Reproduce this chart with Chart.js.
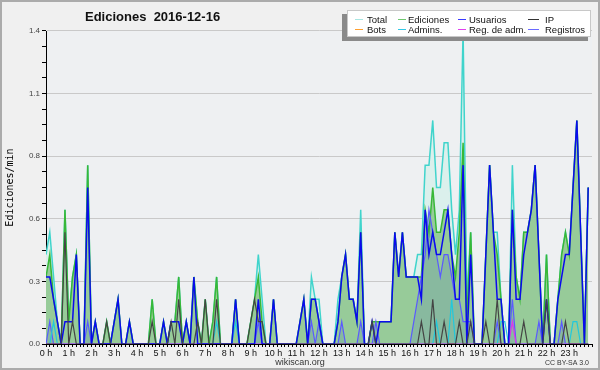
<!DOCTYPE html>
<html>
<head>
<meta charset="utf-8">
<script src="https://cdn.jsdelivr.net/npm/chart.js@4/dist/chart.umd.min.js"></script>
<style>
  html, body { margin: 0; padding: 0; background: #f0f0f0; }
</style>
</head>
<body>
<canvas id="editsChart" width="600" height="370"></canvas>
<script>
// 10-minute bins, 6 per hour, 24 hours
const binsPerHour = 6;
const hourLabels = ['0 h','1 h','2 h','3 h','4 h','5 h','6 h','7 h','8 h','9 h','10 h','11 h',
  '12 h','13 h','14 h','15 h','16 h','17 h','18 h','19 h','20 h','21 h','22 h','23 h'];
const yTickLabels = ['0.0', '0.3', '0.6', '0.8', '1.1', '1.4'];
const seriesNames = ['Total', 'Ediciones', 'Usuarios', 'IP', 'Bots', 'Admins.', 'Reg. de adm.', 'Registros'];

const total = [
  0.4,0.5,0.3,0.1,0,0.6,   0.1,0.3,0.4,0,0,0.8,   0,0.1,0,0,0.1,0,   0.1,0.2,0,0,0.1,0,
  0,0,0,0,0.2,0,   0,0.1,0,0.1,0.1,0.3,   0,0.1,0,0.3,0.1,0,   0.2,0,0.1,0.3,0,0,
  0,0,0.2,0,0,0,   0.1,0.2,0.4,0.2,0,0,   0.2,0,0,0,0,0,   0,0.1,0.2,0,0.3,0.2,
  0.2,0,0,0,0,0.2,   0.3,0.4,0.2,0.2,0.1,0.6,   0,0,0.1,0.1,0.1,0.1,   0.1,0.1,0.5,0.3,0.5,0.3,
  0.3,0.3,0.4,0.4,0.8,0.8,   1.0,0.7,0.7,0.9,0.9,0.6,   0.4,0.6,1.4,0.2,0.5,0,   0,0,0.4,0.8,0.5,0.5,
  0.2,0,0,0.8,0.3,0.2,   0.5,0.5,0.6,0.8,0.4,0,   0.4,0,0,0.2,0.4,0.5,   0.4,0.7,1.0,0.5,0,0.7
];
const ediciones = [
  0.3,0.4,0.2,0.1,0,0.6,   0.1,0.3,0.4,0,0,0.8,   0,0.1,0,0,0.1,0,   0.1,0.2,0,0,0.1,0,
  0,0,0,0,0.2,0,   0,0.1,0,0.1,0.1,0.3,   0,0.1,0,0.3,0.1,0,   0.2,0,0.1,0.3,0,0,
  0,0,0.2,0,0,0,   0.1,0.2,0.3,0.1,0,0,   0.2,0,0,0,0,0,   0,0.1,0.2,0,0.2,0.2,
  0.1,0,0,0,0,0.1,   0.3,0.4,0.2,0.2,0.1,0.5,   0,0,0.1,0.1,0.1,0.1,   0.1,0.1,0.5,0.3,0.5,0.3,
  0.3,0.3,0.3,0.3,0.6,0.5,   0.7,0.5,0.5,0.6,0.6,0.4,   0.3,0.5,0.9,0.1,0.5,0,   0,0,0.4,0.8,0.5,0.4,
  0.2,0,0,0.6,0.3,0.2,   0.5,0.5,0.6,0.8,0.4,0,   0.4,0,0,0.2,0.4,0.5,   0.4,0.7,1.0,0.5,0,0.7
];
const usuarios = [
  0.3,0.3,0.2,0.1,0,0.1,   0.1,0.1,0.4,0,0,0.7,   0,0.1,0,0,0,0,   0.1,0.2,0,0,0.1,0,
  0,0,0,0,0,0,   0,0.1,0,0.1,0.1,0.1,   0,0.1,0,0.3,0,0,   0,0,0,0,0,0,
  0,0,0.2,0,0,0,   0,0,0.2,0,0,0,   0.2,0,0,0,0,0,   0,0.1,0.2,0,0.2,0.2,
  0.1,0,0,0,0,0.1,   0.3,0.4,0.2,0.2,0.1,0.5,   0,0,0.1,0,0.1,0.1,   0.1,0.1,0.5,0.3,0.5,0.3,
  0.3,0.3,0.3,0.2,0.6,0.4,   0.5,0.4,0.4,0.5,0.6,0.4,   0.2,0.2,0.8,0,0.4,0,   0,0,0.4,0.8,0.5,0.2,
  0.2,0,0,0.6,0.2,0.2,   0.4,0.5,0.6,0.8,0.4,0,   0.2,0,0,0.2,0.3,0.4,   0.4,0.7,1.0,0.5,0,0.7
];
const ip = [
  0,0,0,0,0,0.5,   0,0.1,0,0,0,0,   0,0,0,0,0.1,0,   0,0,0,0,0,0,
  0,0,0,0,0.1,0,   0,0,0,0.1,0,0.2,   0,0,0,0,0.1,0,   0.2,0,0,0.2,0,0,
  0,0,0,0,0,0,   0.1,0.2,0.1,0.1,0,0,   0,0,0,0,0,0,   0,0,0,0,0,0,
  0,0,0,0,0,0,   0,0,0,0,0,0,   0,0,0.1,0,0,0,   0,0,0,0,0,0,
  0,0,0,0.1,0,0,   0.2,0,0,0.1,0,0,   0,0.1,0,0,0.1,0,   0,0,0.1,0,0,0.2,
  0,0,0,0,0,0,   0.1,0,0,0,0,0,   0.2,0,0,0,0,0.1,   0,0,0,0,0,0
];
const bots = [
  0,0,0,0,0,0,   0,0,0,0,0,0,   0,0,0,0,0,0,   0,0,0,0,0,0,
  0,0,0,0,0,0,   0,0,0,0,0,0,   0,0,0,0,0,0,   0,0,0,0,0,0,
  0,0,0,0,0,0,   0,0,0,0,0,0,   0,0,0,0,0,0,   0,0,0,0,0,0,
  0,0,0,0,0,0,   0,0,0,0,0,0,   0,0,0,0,0,0,   0,0,0,0,0,0,
  0,0,0,0,0,0,   0,0,0,0,0,0,   0,0,0,0,0,0,   0,0,0,0,0,0,
  0,0,0,0,0,0,   0,0,0,0,0,0,   0,0,0,0,0,0,   0,0,0,0,0,0
];
const admins = [
  0,0,0.1,0,0,0,   0,0,0,0,0,0,   0,0,0,0,0,0,   0,0,0,0,0,0,
  0,0,0,0,0,0,   0,0,0,0,0,0,   0,0,0,0,0,0,   0,0,0,0.1,0,0,
  0,0,0.1,0,0,0,   0,0,0,0,0,0,   0,0,0,0,0,0,   0,0,0,0,0,0,
  0,0,0,0,0,0,   0,0,0,0,0,0,   0,0,0,0,0,0,   0,0,0,0,0,0,
  0,0,0,0,0,0,   0,0.1,0,0,0,0.2,   0,0,0,0,0,0,   0,0,0,0,0,0,
  0.1,0.1,0,0,0,0,   0,0,0,0,0,0,   0,0,0,0,0,0,   0,0.1,0.1,0,0,0
];
const regAdm = [
  0,0,0,0,0,0,   0,0,0,0,0,0,   0,0,0,0,0,0,   0,0,0,0,0,0,
  0,0,0,0,0,0,   0,0,0,0,0,0,   0,0,0,0,0,0,   0,0,0,0,0,0,
  0,0,0,0,0,0,   0,0,0,0,0,0,   0,0,0,0,0,0,   0,0,0,0,0,0,
  0,0,0,0,0,0,   0,0,0,0,0,0,   0,0,0,0,0,0,   0,0,0,0,0,0,
  0,0,0,0,0,0,   0,0,0,0,0,0,   0,0,0,0,0,0,   0,0,0,0,0,0,
  0,0,0,0.1,0,0,   0,0,0,0,0,0,   0,0,0,0,0,0,   0,0,0,0,0,0
];
const registros = [
  0,0.1,0,0,0,0,   0,0,0,0,0,0.1,   0,0,0,0,0,0,   0,0,0,0,0,0,
  0,0,0,0,0,0,   0,0,0,0,0,0,   0,0,0,0,0,0,   0,0,0,0,0,0,
  0,0,0,0,0,0,   0,0,0.1,0,0,0,   0,0,0,0,0,0,   0,0,0,0,0.1,0,
  0.1,0,0,0,0,0,   0.1,0,0,0,0,0.1,   0,0,0,0.1,0,0,   0,0,0,0,0,0,
  0,0.1,0.2,0.3,0.4,0.6,   0.5,0.4,0.3,0.4,0.4,0.3,   0.2,0.2,0.1,0.1,0.1,0,   0,0,0,0,0,0.1,
  0,0,0,0.2,0,0,   0,0,0,0,0.1,0,   0,0,0,0,0.1,0,   0,0,0,0,0,0
];

const lineColors = ['#40d4cc', '#38b838', '#0a0aee', '#444444', '#ffa030', '#22c8dc', '#dd33ee', '#5a5aff'];
const legendColors = ['#a8e6e2', '#70c870', '#3a3aff', '#333333', '#ffa030', '#33c8e6', '#e040ee', '#6a6aff'];

const toXY = arr => arr.map((v, i) => ({ x: i, y: v }));

function series(idx, values, extra) {
  return Object.assign({
    label: seriesNames[idx],
    data: toXY(values),
    borderColor: lineColors[idx],
    borderWidth: 1.5,
    pointRadius: 0,
    tension: 0,
    fill: false
  }, extra);
}

const datasets = [
  series(0, total, { fill: 'origin', backgroundColor: '#dbf0ec', order: 9 }),
  series(1, ediciones, { fill: 'origin', backgroundColor: '#97cb99', order: 8 }),
  series(2, usuarios, { order: 3 }),
  series(3, ip, { order: 2, borderWidth: 1.2 }),
  series(4, bots, { order: 7, borderWidth: 1 }),
  series(5, admins, { order: 5, borderWidth: 1.2 }),
  series(6, regAdm, { order: 4, borderWidth: 1.2 }),
  series(7, registros, { fill: 'origin', backgroundColor: 'rgba(40,70,200,0.13)', order: 6, borderWidth: 1.2 })
];

// background, frame, title, legend and credits
const decor = {
  id: 'decor',
  beforeDraw(chart) {
    const { ctx, chartArea: a } = chart;
    ctx.save();
    ctx.fillStyle = '#f0f0f0';
    ctx.fillRect(0, 0, chart.width, chart.height);
    ctx.fillStyle = '#eef0f2';
    ctx.fillRect(a.left, a.top, a.right - a.left, a.bottom - a.top);
    ctx.restore();
  },
  afterDraw(chart) {
    const ctx = chart.ctx;
    ctx.save();
    ctx.strokeStyle = '#ababab';
    ctx.lineWidth = 2;
    ctx.strokeRect(1, 1, chart.width - 2, chart.height - 2);

    ctx.fillStyle = '#111';
    ctx.font = 'bold 13px "Liberation Sans", Arial, sans-serif';
    ctx.textBaseline = 'alphabetic';
    ctx.textAlign = 'left';
    ctx.fillText('Ediciones  2016-12-16', 85, 21);

    // legend box with shadow
    ctx.fillStyle = '#8a8a8a';
    ctx.fillRect(342, 14, 246, 27);
    ctx.fillStyle = '#ffffff';
    ctx.fillRect(347, 10, 244, 27);
    ctx.strokeStyle = '#c8c8c8';
    ctx.lineWidth = 1;
    ctx.strokeRect(347.5, 10.5, 243, 26);

    const cols = [{ x: 355, len: 8, tx: 367 }, { x: 398, len: 8, tx: 408 },
                  { x: 458, len: 8, tx: 469 }, { x: 528, len: 11, tx: 545 }];
    ctx.font = '9.5px "Liberation Sans", Arial, sans-serif';
    seriesNames.forEach((name, i) => {
      const c = cols[i % 4];
      const row = Math.floor(i / 4);
      const ly = row === 0 ? 19.5 : 29.5;
      ctx.strokeStyle = legendColors[i];
      ctx.lineWidth = 1;
      ctx.beginPath();
      ctx.moveTo(c.x, ly);
      ctx.lineTo(c.x + c.len, ly);
      ctx.stroke();
      ctx.fillStyle = '#111';
      ctx.fillText(name, c.tx, row === 0 ? 23 : 33);
    });

    ctx.fillStyle = '#333';
    ctx.font = '9px "Liberation Sans", Arial, sans-serif';
    ctx.textAlign = 'center';
    ctx.fillText('wikiscan.org', 300, 365);
    ctx.font = '7px "Liberation Sans", Arial, sans-serif';
    ctx.textAlign = 'right';
    ctx.fillText('CC BY-SA 3.0', 589, 365);
    ctx.restore();
  }
};

const config = {
  type: 'line',
  data: { datasets: datasets },
  options: {
    responsive: false,
    animation: false,
    events: [],
    layout: { padding: { top: 31, right: 8, left: 0, bottom: 0 } },
    plugins: {
      legend: { display: false },
      title: { display: false },
      tooltip: { enabled: false }
    },
    scales: {
      x: {
        type: 'linear',
        min: 0,
        max: hourLabels.length * binsPerHour,
        afterFit: s => { s.height = 26; },
        afterBuildTicks: s => {
          const t = [];
          for (let i = 0; i <= hourLabels.length * binsPerHour; i++) t.push({ value: i });
          s.ticks = t;
        },
        ticks: {
          autoSkip: false,
          maxRotation: 0,
          minRotation: 0,
          padding: 1,
          color: '#111',
          font: { family: '"Liberation Sans", Arial, sans-serif', size: 9 },
          callback: v => (v % binsPerHour === 0 && v / binsPerHour < hourLabels.length) ? hourLabels[v / binsPerHour] : ''
        },
        grid: { drawOnChartArea: false, tickLength: 3, tickColor: '#000', lineWidth: 1 },
        border: { display: true, color: '#000', width: 1 }
      },
      y: {
        min: 0,
        max: 1.4,
        afterFit: s => { s.width = 46; },
        afterBuildTicks: s => {
          const t = [];
          for (let k = 0; k <= 20; k++) t.push({ value: k * 0.07 });
          s.ticks = t;
        },
        ticks: {
          autoSkip: false,
          padding: 2,
          color: '#444',
          font: { family: '"Liberation Sans", Arial, sans-serif', size: 8 },
          callback: (v, idx) => idx % 4 === 0 ? yTickLabels[idx / 4] : ''
        },
        grid: {
          color: c => (c.index % 4 === 0 && c.index > 0) ? '#c9c9c9' : 'rgba(0,0,0,0)',
          tickColor: '#000',
          tickLength: 4,
          lineWidth: 1
        },
        border: { display: true, color: '#000', width: 1 },
        title: {
          display: true,
          text: 'Ediciones/min',
          color: '#000',
          font: { family: '"DejaVu Sans Mono", monospace', size: 10 }
        }
      }
    }
  },
  plugins: [decor]
};

const editsChart = new Chart(document.getElementById('editsChart'), config);
</script>
</body>
</html>
